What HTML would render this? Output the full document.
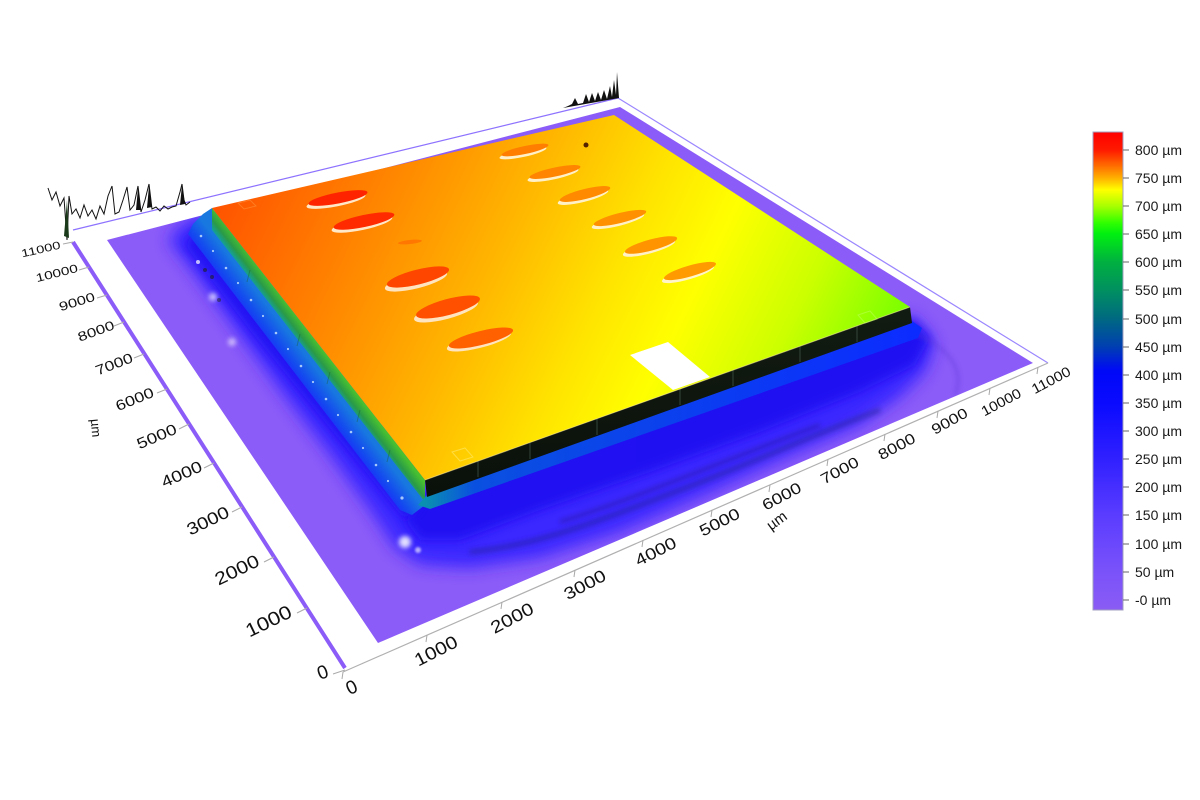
<!DOCTYPE html>
<html><head><meta charset="utf-8"><style>
html,body{margin:0;padding:0;background:#fff;}
svg{display:block;font-family:"Liberation Sans",Arial,sans-serif;}
</style></head><body>
<svg width="1200" height="800" viewBox="0 0 1200 800" xmlns="http://www.w3.org/2000/svg">
<defs>
<linearGradient id="topg" gradientUnits="userSpaceOnUse" x1="212" y1="208" x2="815" y2="502">
<stop offset="0" stop-color="#ff5200"/><stop offset="0.22" stop-color="#ff8600"/><stop offset="0.42" stop-color="#ffb800"/><stop offset="0.58" stop-color="#ffe400"/><stop offset="0.7" stop-color="#ffff00"/><stop offset="0.85" stop-color="#ccff00"/><stop offset="1" stop-color="#78ff00"/>
</linearGradient>
<linearGradient id="sideg" gradientUnits="userSpaceOnUse" x1="318" y1="344" x2="301" y2="357">
<stop offset="0" stop-color="#48c030"/><stop offset="0.4" stop-color="#2a9a48"/><stop offset="0.7" stop-color="#12a0a0"/><stop offset="1" stop-color="#1482d8"/>
</linearGradient>
<linearGradient id="beadg" gradientUnits="userSpaceOnUse" x1="302" y1="350" x2="280" y2="367">
<stop offset="0" stop-color="#1878e0"/><stop offset="0.55" stop-color="#1448f0"/><stop offset="1" stop-color="#2020ff"/>
</linearGradient>
<linearGradient id="fbead" gradientUnits="userSpaceOnUse" x1="425" y1="0" x2="915" y2="0">
<stop offset="0" stop-color="#0a90b0"/><stop offset="0.1" stop-color="#0a50e0"/><stop offset="1" stop-color="#0c2cff"/>
</linearGradient>
<linearGradient id="frontg" gradientUnits="userSpaceOnUse" x1="0" y1="300" x2="0" y2="500">
<stop offset="0" stop-color="#121c12"/><stop offset="1" stop-color="#0a100a"/>
</linearGradient>
<linearGradient id="cbar" x1="0" y1="0" x2="0" y2="1">
<stop offset="0" stop-color="#ff0000"/><stop offset="0.038" stop-color="#ff1a00"/><stop offset="0.07" stop-color="#ff6a00"/><stop offset="0.096" stop-color="#ffb000"/><stop offset="0.121" stop-color="#ffff00"/><stop offset="0.155" stop-color="#a8ff00"/><stop offset="0.19" stop-color="#30ff00"/><stop offset="0.213" stop-color="#00f010"/><stop offset="0.272" stop-color="#00b040"/><stop offset="0.331" stop-color="#009060"/><stop offset="0.389" stop-color="#006a80"/><stop offset="0.448" stop-color="#0040b0"/><stop offset="0.5" stop-color="#0008f8"/><stop offset="0.567" stop-color="#0a0aff"/><stop offset="0.684" stop-color="#3020ff"/><stop offset="0.801" stop-color="#5a3cff"/><stop offset="0.918" stop-color="#7a52fa"/><stop offset="1" stop-color="#8a5cf4"/>
</linearGradient>
<filter id="b9" x="-20%" y="-20%" width="140%" height="140%"><feGaussianBlur stdDeviation="8"/></filter>
<filter id="b5" x="-20%" y="-20%" width="140%" height="140%"><feGaussianBlur stdDeviation="5"/></filter>
<filter id="b2" x="-50%" y="-50%" width="200%" height="200%"><feGaussianBlur stdDeviation="2.5"/></filter>
<filter id="b1" x="-50%" y="-50%" width="200%" height="200%"><feGaussianBlur stdDeviation="1"/></filter>
<clipPath id="floorclip"><polygon points="107,240 620,107 1033,363 378,643"/></clipPath>
</defs>
<rect width="1200" height="800" fill="#fff"/>

<!-- back profile lines -->
<polyline points="73,230 618,98" fill="none" stroke="#8d72ff" stroke-width="1.2"/>
<polyline points="618,98 1048,363" fill="none" stroke="#9b86ff" stroke-width="1.2"/>
<polyline points="48,188 52,200 56,192 60,206 64,198 67,240 69,196 72,214 76,209 80,218 84,205 88,216 92,210 96,219 100,206 104,214 108,196 112,186 115,214 119,212 123,200 127,187 130,210 134,205 138,186 141,212 145,200 149,184 152,209 156,207 160,211 164,206 168,209 172,207 176,206 180,192 182,184 184,200 186,205 190,202" fill="none" stroke="#111" stroke-width="1"/>
<polygon points="136,210 138,188 141,210" fill="#111"/><polygon points="147,208 149,186 152,207" fill="#111"/><polygon points="180,205 182,185 185,204" fill="#111"/><polygon points="64,236 67,200 69,238" fill="#1a3a1a"/>
<polygon points="563,108 568,106 572,104 575,98 578,104 583,103 586,94 589,102 592,93 595,101 598,92 601,100 604,90 607,99 610,86 612,97 614,80 616,95 617,72 619,98" fill="#111"/>

<!-- floor -->
<polygon points="107,240 620,107 1033,363 378,643" fill="#8c5cf8"/>
<g clip-path="url(#floorclip)">
<polygon points="200,214 425,490 912,316 925,330 935,345 925,372 900,397 860,425 780,460 700,497 620,532 540,558 470,568 420,565 395,548 370,510 330,455 280,390 230,322 190,268 168,240 180,226" fill="#3222ff" filter="url(#b9)" opacity="0.9"/>
<polygon points="425,495 912,320 930,338 915,365 860,392 760,432 650,472 540,510 460,540 420,540 405,520" fill="#1a0ef0" filter="url(#b5)" opacity="0.85"/>
<polygon points="200,225 420,505 405,520 250,330 185,245" fill="#1a10f0" filter="url(#b5)" opacity="0.8"/>
<path d="M470,552 C540,545 600,520 680,490 S800,440 880,410" stroke="#24208a" stroke-width="5" fill="none" opacity="0.45" filter="url(#b2)"/>
<path d="M560,522 C640,497 720,462 820,425" stroke="#201870" stroke-width="4" fill="none" opacity="0.35" filter="url(#b2)"/>
<path d="M905,330 C950,345 965,370 955,395" stroke="#5a38d8" stroke-width="3" fill="none" opacity="0.45" filter="url(#b2)"/>
<circle cx="405" cy="542" r="6" fill="#fff" opacity="0.85" filter="url(#b2)"/>
<circle cx="418" cy="550" r="3" fill="#fff" opacity="0.6" filter="url(#b1)"/>
<circle cx="232" cy="342" r="4" fill="#fff" opacity="0.6" filter="url(#b2)"/>
<circle cx="213" cy="297" r="4" fill="#fff" opacity="0.7" filter="url(#b2)"/>
<circle cx="198" cy="262" r="2" fill="#fff" opacity="0.7"/>
<circle cx="205" cy="270" r="2" fill="#222" opacity="0.6"/><circle cx="212" cy="277" r="2" fill="#222" opacity="0.6"/><circle cx="219" cy="300" r="2" fill="#222" opacity="0.5"/>
</g>

<!-- chip left bead and side -->
<polygon points="212,208 425,485 425,505 412,515 400,510 188,234 193,224 203,214" fill="url(#beadg)"/>
<polygon points="212,208 425,480 425,502 212,230" fill="url(#sideg)"/>
<g stroke="#1c5a30" stroke-width="1" opacity="0.4">
<line x1="250" y1="270" x2="247" y2="282"/><line x1="300" y1="334" x2="297" y2="346"/><line x1="330" y1="372" x2="327" y2="384"/><line x1="360" y1="410" x2="357" y2="422"/><line x1="390" y1="450" x2="387" y2="462"/>
</g>
<g fill="#d8f0ff" opacity="0.75">
<circle cx="201" cy="236" r="1.3"/><circle cx="213" cy="251" r="1.1"/><circle cx="226" cy="268" r="1.3"/><circle cx="238" cy="283" r="1.1"/><circle cx="251" cy="300" r="1.3"/><circle cx="263" cy="316" r="1.1"/><circle cx="276" cy="333" r="1.3"/><circle cx="288" cy="349" r="1.1"/><circle cx="301" cy="366" r="1.3"/><circle cx="313" cy="382" r="1.1"/><circle cx="326" cy="399" r="1.3"/><circle cx="338" cy="415" r="1.1"/><circle cx="351" cy="432" r="1.3"/><circle cx="363" cy="448" r="1.1"/><circle cx="376" cy="465" r="1.3"/><circle cx="388" cy="481" r="1.1"/><circle cx="402" cy="498" r="1.6"/>
</g>
<!-- front bead and wall -->
<polygon points="427,495 912,321 922,328 918,338 430,509 418,505" fill="url(#fbead)"/>
<polygon points="425,480 910,307 912,323 427,497" fill="url(#frontg)"/>
<g stroke="#33453a" stroke-width="1">
<line x1="478" y1="461" x2="478" y2="477"/><line x1="530" y1="443" x2="530" y2="459"/><line x1="597" y1="419" x2="597" y2="435"/><line x1="680" y1="389" x2="680" y2="405"/><line x1="733" y1="370" x2="733" y2="386"/><line x1="800" y1="346" x2="800" y2="362"/><line x1="857" y1="326" x2="857" y2="342"/>
</g>
<!-- top surface -->
<polygon points="212,208 614,115 910,307 425,480" fill="url(#topg)"/>
<polyline points="425,480 910,307" fill="none" stroke="#fff2a0" stroke-width="1" opacity="0.5"/>
<!-- fiducials -->
<g fill="none" stroke-width="1" opacity="0.5">
<polygon points="238,203 250,200 256,206 244,209" stroke="#ff9a40"/>
<polygon points="452,452 465,448 473,457 460,461" stroke="#fff080"/>
<polygon points="858,315 870,311 877,319 865,323" stroke="#c0ff60"/>
</g>
<!-- defects -->
<g>
<ellipse cx="336" cy="201" rx="30" ry="5.5" transform="rotate(-11 336 201)" fill="#ffe8c8"/>
<ellipse cx="338" cy="198" rx="30" ry="5.5" transform="rotate(-11 338 198)" fill="#ff2400"/>
<ellipse cx="362" cy="224" rx="31" ry="6" transform="rotate(-12 362 224)" fill="#ffe8c8"/>
<ellipse cx="364" cy="221" rx="31" ry="6" transform="rotate(-12 364 221)" fill="#ff2a00"/>
<ellipse cx="410" cy="242" rx="12" ry="2" transform="rotate(-6 410 242)" fill="#ff6a00" opacity="0.7"/>
<ellipse cx="416" cy="281" rx="32" ry="7.5" transform="rotate(-14 416 281)" fill="#ffe4c0"/>
<ellipse cx="418" cy="277" rx="32" ry="7.5" transform="rotate(-14 418 277)" fill="#ff4600"/>
<ellipse cx="446" cy="311" rx="33" ry="8" transform="rotate(-15 446 311)" fill="#ffe4c0"/>
<ellipse cx="448" cy="307" rx="33" ry="8" transform="rotate(-15 448 307)" fill="#ff5000"/>
<ellipse cx="479" cy="341" rx="33" ry="7" transform="rotate(-14 479 341)" fill="#ffe4c0"/>
<ellipse cx="481" cy="338" rx="33" ry="7" transform="rotate(-14 481 338)" fill="#ff6000"/>
<ellipse cx="523" cy="153" rx="24" ry="4" transform="rotate(-12 523 153)" fill="#fff0c8"/>
<ellipse cx="525" cy="150" rx="24" ry="4" transform="rotate(-12 525 150)" fill="#ff7e00"/>
<ellipse cx="553" cy="175" rx="26" ry="4.5" transform="rotate(-12 553 175)" fill="#fff0c8"/>
<ellipse cx="555" cy="172" rx="26" ry="4.5" transform="rotate(-12 555 172)" fill="#ff8400"/>
<ellipse cx="583" cy="197" rx="26" ry="5" transform="rotate(-14 583 197)" fill="#fff0c8"/>
<ellipse cx="585" cy="194" rx="26" ry="5" transform="rotate(-14 585 194)" fill="#ff8a00"/>
<ellipse cx="618" cy="221" rx="27" ry="5" transform="rotate(-14 618 221)" fill="#fff0c8"/>
<ellipse cx="620" cy="218" rx="27" ry="5" transform="rotate(-14 620 218)" fill="#ff9000"/>
<ellipse cx="649" cy="248" rx="27" ry="5.5" transform="rotate(-15 649 248)" fill="#fff0c8"/>
<ellipse cx="651" cy="245" rx="27" ry="5.5" transform="rotate(-15 651 245)" fill="#ff9400"/>
<ellipse cx="688" cy="274" rx="27" ry="5.5" transform="rotate(-16 688 274)" fill="#fff4c8"/>
<ellipse cx="690" cy="271" rx="27" ry="5.5" transform="rotate(-16 690 271)" fill="#ff9a00"/>
<circle cx="586" cy="145" r="2.5" fill="#552200"/>
</g>
<!-- white rectangle -->
<polygon points="630,355 668,342 710,377 673,390" fill="#fff"/>

<!-- left axis -->
<line x1="73" y1="242" x2="345" y2="668" stroke="#8c5cf8" stroke-width="4"/>
<g stroke="#aaa" stroke-width="1">
<line x1="63" y1="244" x2="73" y2="242"/><line x1="79" y1="270" x2="89" y2="267"/><line x1="97" y1="298" x2="107" y2="295"/><line x1="114" y1="326" x2="124" y2="322"/><line x1="134" y1="358" x2="144" y2="354"/><line x1="157" y1="393" x2="167" y2="389"/><line x1="179" y1="429" x2="189" y2="424"/><line x1="204" y1="468" x2="214" y2="463"/><line x1="232" y1="512" x2="242" y2="507"/><line x1="264" y1="562" x2="274" y2="557"/><line x1="297" y1="613" x2="307" y2="608"/><line x1="333" y1="674" x2="345" y2="670"/>
</g>
<!-- x axis -->
<line x1="343" y1="672" x2="1048" y2="363" stroke="#b0b0b0" stroke-width="1.2"/>
<g stroke="#aaa" stroke-width="1">
<line x1="343" y1="672" x2="342" y2="679"/><line x1="427" y1="635" x2="426" y2="642"/><line x1="502" y1="602" x2="501" y2="609"/><line x1="575" y1="570" x2="574" y2="577"/><line x1="643" y1="540" x2="642" y2="547"/><line x1="712" y1="510" x2="711" y2="517"/><line x1="770" y1="485" x2="769" y2="492"/><line x1="828" y1="459" x2="827" y2="466"/><line x1="885" y1="434" x2="884" y2="441"/><line x1="938" y1="411" x2="937" y2="418"/><line x1="990" y1="388" x2="989" y2="395"/><line x1="1038" y1="367" x2="1037" y2="374"/>
</g>

<!-- y labels -->
<g fill="#111" text-anchor="middle" dominant-baseline="central">
<text transform="translate(41,250) rotate(-13)" font-size="11" textLength="40" lengthAdjust="spacingAndGlyphs">11000</text>
<text transform="translate(57,274) rotate(-14)" font-size="11.5" textLength="43" lengthAdjust="spacingAndGlyphs">10000</text>
<text transform="translate(77,302) rotate(-17)" font-size="12.5" textLength="37" lengthAdjust="spacingAndGlyphs">9000</text>
<text transform="translate(96,331) rotate(-20)" font-size="13" textLength="38" lengthAdjust="spacingAndGlyphs">8000</text>
<text transform="translate(114,364) rotate(-21)" font-size="14" textLength="39" lengthAdjust="spacingAndGlyphs">7000</text>
<text transform="translate(135,400) rotate(-22)" font-size="14.5" textLength="40" lengthAdjust="spacingAndGlyphs">6000</text>
<text transform="translate(157,437) rotate(-23)" font-size="15" textLength="42" lengthAdjust="spacingAndGlyphs">5000</text>
<text transform="translate(182,475) rotate(-24)" font-size="16" textLength="43" lengthAdjust="spacingAndGlyphs">4000</text>
<text transform="translate(208,521) rotate(-26)" font-size="17" textLength="45" lengthAdjust="spacingAndGlyphs">3000</text>
<text transform="translate(237,570) rotate(-26)" font-size="18" textLength="47" lengthAdjust="spacingAndGlyphs">2000</text>
<text transform="translate(269,622) rotate(-26)" font-size="19" textLength="49" lengthAdjust="spacingAndGlyphs">1000</text>
<text transform="translate(323,673) rotate(-20)" font-size="19">0</text>
<text transform="translate(96,428) rotate(85)" font-size="13">µm</text>
</g>
<!-- x labels -->
<g fill="#111" text-anchor="middle" dominant-baseline="central">
<text transform="translate(352,688) rotate(-25)" font-size="19">0</text>
<text transform="translate(436,651) rotate(-27)" font-size="18" textLength="46" lengthAdjust="spacingAndGlyphs">1000</text>
<text transform="translate(512,618) rotate(-28)" font-size="17.5" textLength="46" lengthAdjust="spacingAndGlyphs">2000</text>
<text transform="translate(585,585) rotate(-28)" font-size="17" textLength="45" lengthAdjust="spacingAndGlyphs">3000</text>
<text transform="translate(656,552) rotate(-27)" font-size="16.5" textLength="44" lengthAdjust="spacingAndGlyphs">4000</text>
<text transform="translate(720,523) rotate(-27)" font-size="16" textLength="43" lengthAdjust="spacingAndGlyphs">5000</text>
<text transform="translate(782,497) rotate(-28)" font-size="15.5" textLength="42" lengthAdjust="spacingAndGlyphs">6000</text>
<text transform="translate(840,471) rotate(-28)" font-size="15" textLength="41" lengthAdjust="spacingAndGlyphs">7000</text>
<text transform="translate(897,447) rotate(-28)" font-size="15" textLength="40" lengthAdjust="spacingAndGlyphs">8000</text>
<text transform="translate(950,422) rotate(-29)" font-size="14.5" textLength="39" lengthAdjust="spacingAndGlyphs">9000</text>
<text transform="translate(1001,402) rotate(-28)" font-size="14" textLength="43" lengthAdjust="spacingAndGlyphs">10000</text>
<text transform="translate(1051,380) rotate(-28)" font-size="14" textLength="42" lengthAdjust="spacingAndGlyphs">11000</text>
<text transform="translate(777,521) rotate(-36)" font-size="15">µm</text>
</g>

<!-- colorbar -->
<rect x="1093" y="132" width="30" height="478" fill="url(#cbar)" stroke="#a0a0c0" stroke-width="1"/>
<g stroke="#666" stroke-width="1">
<line x1="1123" y1="150" x2="1129" y2="150"/><line x1="1123" y1="178" x2="1129" y2="178"/><line x1="1123" y1="206" x2="1129" y2="206"/><line x1="1123" y1="234" x2="1129" y2="234"/><line x1="1123" y1="262" x2="1129" y2="262"/><line x1="1123" y1="290" x2="1129" y2="290"/><line x1="1123" y1="319" x2="1129" y2="319"/><line x1="1123" y1="347" x2="1129" y2="347"/><line x1="1123" y1="375" x2="1129" y2="375"/><line x1="1123" y1="403" x2="1129" y2="403"/><line x1="1123" y1="431" x2="1129" y2="431"/><line x1="1123" y1="459" x2="1129" y2="459"/><line x1="1123" y1="487" x2="1129" y2="487"/><line x1="1123" y1="515" x2="1129" y2="515"/><line x1="1123" y1="544" x2="1129" y2="544"/><line x1="1123" y1="572" x2="1129" y2="572"/><line x1="1123" y1="600" x2="1129" y2="600"/>
</g>
<g fill="#1a1a1a" font-size="14" dominant-baseline="central">
<text x="1135" y="150">800 µm</text><text x="1135" y="178">750 µm</text><text x="1135" y="206">700 µm</text><text x="1135" y="234">650 µm</text><text x="1135" y="262">600 µm</text><text x="1135" y="290">550 µm</text><text x="1135" y="319">500 µm</text><text x="1135" y="347">450 µm</text><text x="1135" y="375">400 µm</text><text x="1135" y="403">350 µm</text><text x="1135" y="431">300 µm</text><text x="1135" y="459">250 µm</text><text x="1135" y="487">200 µm</text><text x="1135" y="515">150 µm</text><text x="1135" y="544">100 µm</text><text x="1135" y="572">50 µm</text><text x="1135" y="600">-0 µm</text>
</g>
</svg>
</body></html>
